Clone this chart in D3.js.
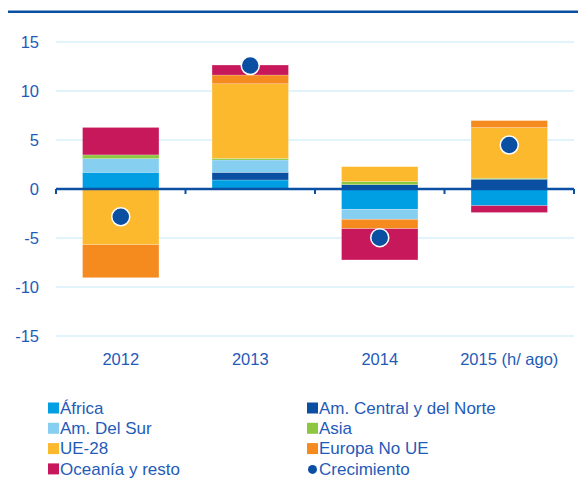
<!DOCTYPE html>
<html><head><meta charset="utf-8">
<script src="https://cdn.jsdelivr.net/npm/d3@7"></script>
<style>body{margin:0;background:#fff}svg{display:block;font-family:"Liberation Sans",Arial,sans-serif}</style>
</head><body>
<script>
const categories = ["2012","2013","2014","2015 (h/ ago)"];
const seriesNames = ["África","Am. Central y del Norte","Am. Del Sur","Asia","UE-28","Europa No UE","Oceanía y resto"];
const africa   = [1.7, 0.92, -2.07, -1.7];
const amCentral= [0.0, 0.78, 0.44, 1.0];
const amSur    = [1.4, 1.26, -1.03, 0.0];
const asia     = [0.38, 0.17, 0.31, 0.1];
const ue28     = [-5.68, 7.61, 1.53, 5.17];
const europaNoUE = [-3.37, 0.89, -0.95, 0.71];
const oceania  = [2.8, 1.02, -3.19, -0.7];
const crecimiento = [-2.83, 12.6, -4.97, 4.49];
const yTicks = [15,10,5,0,-5,-10,-15];
const colors = ["#009fe3","#0b4fa2","#87cff0","#8dc63f","#fdb92e","#f58a1f","#c8185c"];

const W=578,H=479;
const svg=d3.select("body").append("svg").attr("width",W).attr("height",H);
const textColor="#1f5bb8", axisColor="#0b4fa2";

// top rule
svg.append("line").attr("x1",8).attr("x2",W).attr("y1",11.7).attr("y2",11.7)
  .attr("stroke",axisColor).attr("stroke-width",2.5);

const x=d3.scaleBand().domain(categories).range([56,574]).paddingInner(0.41).paddingOuter(0.205);
const y=d3.scaleLinear().domain([-15,15]).range([336,42]);

// grid
svg.append("g").selectAll("line").data(yTicks.filter(d=>d!==0)).join("line")
  .attr("x1",56).attr("x2",574).attr("y1",d=>y(d)).attr("y2",d=>y(d))
  .attr("stroke","#c4e7f7").attr("stroke-width",1.2);

// y labels
svg.append("g").selectAll("text").data(yTicks).join("text")
  .attr("x",39).attr("y",d=>y(d)).attr("dy","0.36em").attr("text-anchor","end")
  .attr("fill",textColor).attr("font-size",16.5).text(d=>d);

const rows=categories.map((c,i)=>({cat:c,
  s0:africa[i],s1:amCentral[i],s2:amSur[i],s3:asia[i],s4:ue28[i],s5:europaNoUE[i],s6:oceania[i]}));
const keys=["s0","s1","s2","s3","s4","s5","s6"];
const stack=d3.stack().keys(keys).offset(d3.stackOffsetDiverging)(rows);

svg.append("g").selectAll("g").data(stack).join("g").attr("fill",(d,i)=>colors[i])
  .selectAll("rect").data(d=>d).join("rect")
  .attr("x",d=>x(d.data.cat)).attr("width",x.bandwidth())
  .attr("y",d=>y(Math.max(d[0],d[1]))).attr("height",d=>Math.abs(y(d[0])-y(d[1])))
  .attr("stroke","rgba(255,255,255,0.35)").attr("stroke-width",0.6);

// zero axis
const step=x.step();
const axisG=svg.append("g");
axisG.append("line").attr("x1",56).attr("x2",574).attr("y1",y(0)).attr("y2",y(0))
  .attr("stroke",axisColor).attr("stroke-width",2.5);
axisG.selectAll("line.t").data(d3.range(categories.length+1)).join("line").attr("class","t")
  .attr("x1",i=>56+i*step).attr("x2",i=>56+i*step)
  .attr("y1",y(0)).attr("y2",y(0)+5).attr("stroke",axisColor).attr("stroke-width",2);

// dots
svg.append("g").selectAll("circle").data(crecimiento).join("circle")
  .attr("cx",(d,i)=>x(categories[i])+x.bandwidth()/2).attr("cy",d=>y(d)).attr("r",9)
  .attr("fill","#0b4fa2").attr("stroke","#fff").attr("stroke-width",1.5);

// x labels
svg.append("g").selectAll("text").data(categories).join("text")
  .attr("x",d=>x(d)+x.bandwidth()/2).attr("y",359).attr("dy","0.36em").attr("text-anchor","middle")
  .attr("fill",textColor).attr("font-size",16.5).text(d=>d);

// legend
const legendItems=[
  {n:seriesNames[0],c:colors[0],col:0,row:0},
  {n:seriesNames[1],c:colors[1],col:1,row:0},
  {n:seriesNames[2],c:colors[2],col:0,row:1},
  {n:seriesNames[3],c:colors[3],col:1,row:1},
  {n:seriesNames[4],c:colors[4],col:0,row:2},
  {n:seriesNames[5],c:colors[5],col:1,row:2},
  {n:seriesNames[6],c:colors[6],col:0,row:3},
  {n:"Crecimiento",c:"#0b4fa2",col:1,row:3,dot:true}];
const lg=svg.append("g").selectAll("g").data(legendItems).join("g")
  .attr("transform",d=>`translate(${d.col?307:48},${408+d.row*20.3})`);
lg.filter(d=>!d.dot).append("rect").attr("x",0).attr("y",-5.5).attr("width",11).attr("height",11).attr("fill",d=>d.c);
lg.filter(d=>d.dot).append("circle").attr("cx",5.5).attr("cy",0.5).attr("r",4.5).attr("fill",d=>d.c);
lg.append("text").attr("x",12).attr("y",0).attr("dy","0.34em").attr("fill",textColor)
  .attr("font-size",17).text(d=>d.n);
</script>
</body></html>
